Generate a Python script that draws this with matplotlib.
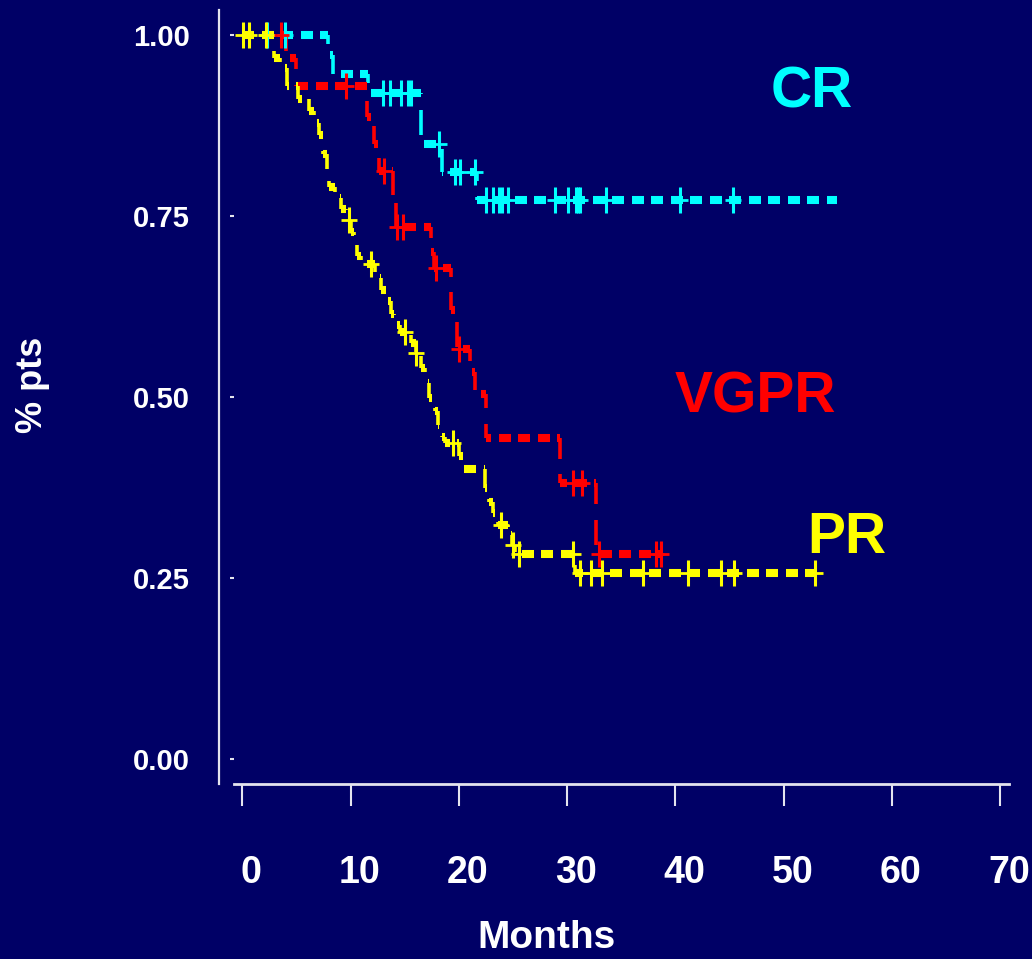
import numpy as np
import matplotlib
matplotlib.use('Agg')
import matplotlib.pyplot as plt
from matplotlib.collections import LineCollection
from matplotlib.transforms import ScaledTranslation

plt.rcParams['font.family'] = ['Liberation Sans', 'DejaVu Sans']
plt.rcParams['font.weight'] = 'bold'

BG = '#000066'
AXC = '#e4e4ee'

# Kaplan-Meier steps (months, survival after the step)
cr_times = [7.9, 8.4, 11.6, 16.5, 18.4, 21.7]
cr_levels = [0.972, 0.946, 0.92, 0.849, 0.811, 0.772]
cr_censor = [2.3, 3.9, 13.0, 13.6, 14.7, 15.3, 15.6, 18.2, 19.6, 20.1, 21.5,
             22.5, 23.2, 23.7, 24.0, 24.5, 28.9, 30.1, 30.8, 31.0, 31.2,
             33.6, 40.4, 45.3]
cr_end = 54.9

vgpr_times = [4.0, 5.0, 11.5, 12.2, 12.6, 13.9, 14.2, 17.4, 17.7, 19.3, 19.8,
              21.0, 21.5, 22.5, 29.3, 32.7]
vgpr_levels = [0.968, 0.93, 0.887, 0.85, 0.812, 0.775, 0.735, 0.70, 0.678,
               0.62, 0.566, 0.535, 0.504, 0.443, 0.381, 0.283]
vgpr_censor = [3.6, 9.6, 13.1, 14.3, 14.8, 17.9, 20.0, 30.5, 31.4, 32.9,
               38.2, 38.7]
vgpr_end = 38.8

pr_times = [2.9, 3.5, 4.1, 5.1, 6.2, 6.6, 7.1, 7.5, 7.8, 8.0, 8.6, 9.1, 9.6,
            10.0, 10.3, 10.6, 11.0, 12.3, 12.8, 13.3, 13.7, 14.0, 14.6, 15.6,
            16.0, 16.5, 16.9, 17.2, 17.8, 18.1, 18.4, 18.7, 20.0, 20.4, 22.4,
            22.8, 23.2, 23.6, 24.5, 24.9, 25.2, 30.7]
pr_levels = [0.968, 0.955, 0.93, 0.912, 0.895, 0.878, 0.862, 0.835, 0.81,
             0.79, 0.775, 0.76, 0.745, 0.728, 0.71, 0.695, 0.684, 0.665,
             0.648, 0.632, 0.615, 0.60, 0.59, 0.575, 0.561, 0.54, 0.52,
             0.498, 0.48, 0.462, 0.445, 0.436, 0.418, 0.40, 0.375, 0.355,
             0.34, 0.323, 0.31, 0.296, 0.283, 0.257]
pr_censor = [0.1, 0.6, 2.2, 9.9, 11.9, 15.0, 16.0, 19.5, 23.9, 25.0, 25.6,
             30.5, 31.2, 32.2, 33.2, 37.0, 41.2, 44.2, 45.4, 52.9]
pr_end = 52.9

x_ticks = [0, 10, 20, 30, 40, 50, 60, 70]
y_ticks = [0.0, 0.25, 0.50, 0.75, 1.00]
y_ticklabels = ['0.00', '0.25', '0.50', '0.75', '1.00']

groups = [
    ('CR', cr_times, cr_levels, cr_censor, cr_end, '#00ffff'),
    ('VGPR', vgpr_times, vgpr_levels, vgpr_censor, vgpr_end, '#ff0000'),
    ('PR', pr_times, pr_levels, pr_censor, pr_end, '#ffff00'),
]


def surv_at(times, levels, x):
    idx = np.searchsorted(times, x, side='right')
    return 1.0 if idx == 0 else levels[idx - 1]


def dashed_step(ax, times, levels, end, color, on=12.0, off=7.5, r=2.1,
                hw=5.8, vw=2.6):
    # the original slide is stretched vertically, so the dash pattern runs
    # along the step path with vertical lengths shrunk by r
    s = [1.0] + list(levels)
    verts = [(0.0, 1.0)]
    for i, tt in enumerate(times):
        verts.append((tt, s[i]))
        verts.append((tt, s[i + 1]))
    verts.append((end, s[-1]))
    P = ax.transData.transform(verts)
    period = on + off
    hsegs, vsegs = [], []
    pos = 0.0
    for a, b in zip(P[:-1], P[1:]):
        horiz = abs(b[1] - a[1]) < 1e-9
        L = abs(b[0] - a[0]) if horiz else abs(b[1] - a[1]) / r
        if L <= 0:
            continue
        start, stop = pos, pos + L
        k = np.floor(start / period)
        while k * period < stop:
            s0 = max(start, k * period)
            s1 = min(stop, k * period + on)
            if s1 > s0:
                p0 = a + (b - a) * (s0 - start) / L
                p1 = a + (b - a) * (s1 - start) / L
                (hsegs if horiz else vsegs).append([p0, p1])
            k += 1
        pos = stop
    inv = ax.transData.inverted()
    hsegs = [inv.transform(np.array(sg)) for sg in hsegs]
    vsegs = [inv.transform(np.array(sg)) for sg in vsegs]
    ax.add_collection(LineCollection(hsegs, colors=color, linewidths=hw,
                                     capstyle='butt', zorder=3))
    ax.add_collection(LineCollection(vsegs, colors=color, linewidths=vw,
                                     capstyle='butt', zorder=3))


W, H = 1032, 959
fig = plt.figure(figsize=(W / 100, H / 100), dpi=100, facecolor=BG)

# axes box in pixels: x 219..1010, y 10..784
ax = fig.add_axes([219 / W, 1 - 784 / H, (1010 - 219) / W, (784 - 10) / H])
ax.set_facecolor(BG)
ax.set_xlim(-2.15, 70.9)
ax.set_ylim(-0.0345, 1.0345)

for name, times, levels, censor, end, col in groups:
    dashed_step(ax, times, levels, end, col)
    cy = [surv_at(times, levels, c) for c in censor]
    ax.plot(censor, cy, linestyle='none', marker='|', ms=19, mew=2.2,
            color=col, zorder=4)
    ax.plot(censor, cy, linestyle='none', marker='_', ms=11, mew=2,
            color=col, zorder=4)

# spines
for sp in ['top', 'right']:
    ax.spines[sp].set_visible(False)
ax.spines['left'].set_color(AXC)
ax.spines['left'].set_linewidth(1.6)
ax.spines['bottom'].set_color(AXC)
ax.spines['bottom'].set_linewidth(2.0)
ax.spines['bottom'].set_bounds(-0.77, 70.8)

ax.set_xticks(x_ticks)
ax.set_xticklabels([str(v) for v in x_ticks])
ax.tick_params(axis='x', direction='out', length=16, width=1.5, color=AXC,
               pad=35, labelsize=27, labelcolor='white')
for lab in ax.get_xticklabels():
    lab.set_fontweight('bold')
    lab.set_transform(lab.get_transform() + ScaledTranslation(9 / 100, 0, fig.dpi_scale_trans))

ax.set_yticks(y_ticks)
ax.set_yticklabels(y_ticklabels)
ax.tick_params(axis='y', length=0, pad=21, labelsize=21, labelcolor='white')
for lab in ax.get_yticklabels():
    lab.set_fontweight('bold')

# small detached y tick marks
ax.plot([-0.95] * len(y_ticks), y_ticks, linestyle='none', marker='_',
        ms=3, mew=1.5, color=AXC, clip_on=False)

fig.text(33 / W, 1 - 385 / H, '% pts', rotation=90, ha='center', va='center',
         color='white', fontsize=26, fontweight='bold')
fig.text(546 / W, 1 - 938 / H, 'Months', ha='center', va='center',
         color='white', fontsize=28, fontweight='bold')

fig.text(812 / W, 1 - 92 / H, 'CR', ha='center', va='center',
         color='#00ffff', fontsize=41, fontweight='bold')
fig.text(755 / W, 1 - 398 / H, 'VGPR', ha='center', va='center',
         color='#ff0000', fontsize=41, fontweight='bold')
fig.text(847 / W, 1 - 538 / H, 'PR', ha='center', va='center',
         color='#ffff00', fontsize=41, fontweight='bold')

fig.savefig('out.png', dpi=100, facecolor=BG)
